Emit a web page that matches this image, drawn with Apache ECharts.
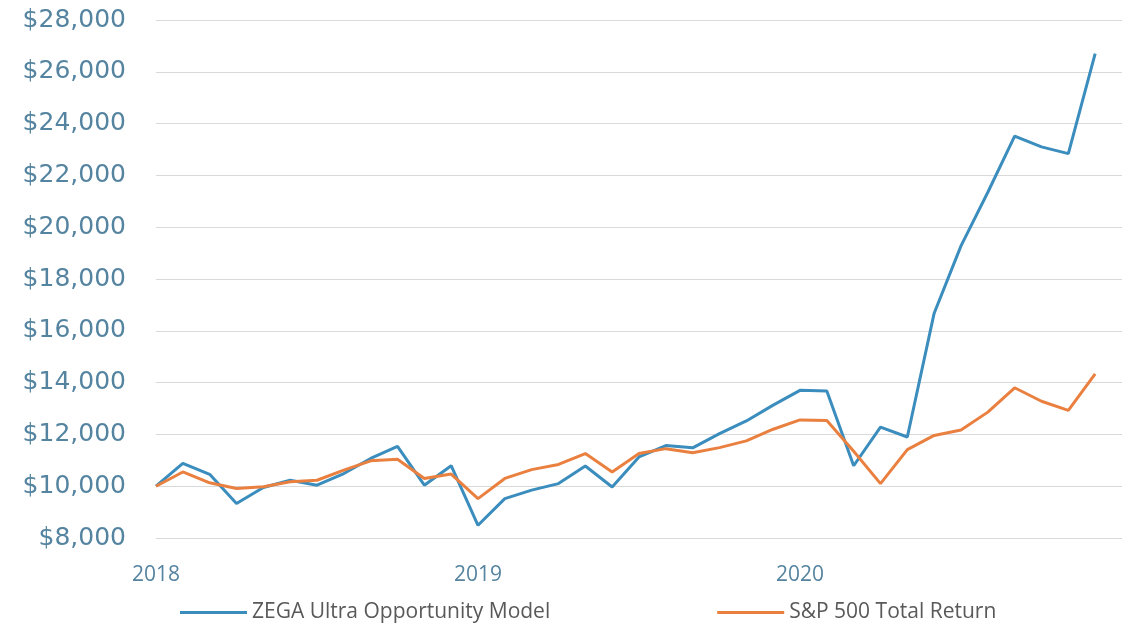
<!DOCTYPE html>
<html>
<head>
<meta charset="utf-8">
<script src="https://cdn.jsdelivr.net/npm/echarts@6/dist/echarts.min.js"></script>
<style>
  html, body { margin: 0; padding: 0; background: #fff; }
  #chart { width: 1124px; height: 626px; }
</style>
</head>
<body>
<div id="chart"></div>
<script>
// monthly points, Jan 2018 .. Dec 2020 (axis runs one extra month to Jan 2021)
const months = [
  '2018-01', '2018-02', '2018-03', '2018-04', '2018-05', '2018-06',
  '2018-07', '2018-08', '2018-09', '2018-10', '2018-11', '2018-12',
  '2019-01', '2019-02', '2019-03', '2019-04', '2019-05', '2019-06',
  '2019-07', '2019-08', '2019-09', '2019-10', '2019-11', '2019-12',
  '2020-01', '2020-02', '2020-03', '2020-04', '2020-05', '2020-06',
  '2020-07', '2020-08', '2020-09', '2020-10', '2020-11', '2020-12',
  '2021-01'
]
const yearLabels = ['2018', '2019', '2020']

const zega = [
  10000, 10880, 10460, 9330, 9950, 10230, 10040, 10490, 11070, 11540, 10040, 10790,
  8490, 9520, 9850, 10100, 10780, 9970, 11130, 11570, 11480, 12030, 12520, 13130,
  13700, 13680, 10790, 12280, 11900, 16680, 19280, 21350, 23520, 23100, 22840, 26700
]
const sp500 = [
  10000, 10550, 10130, 9910, 9975, 10170, 10230, 10620, 10980, 11040, 10300, 10470,
  9520, 10300, 10640, 10840, 11260, 10550, 11260, 11450, 11290, 11490, 11750, 12200,
  12560, 12540, 11350, 10100, 11410, 11960, 12170, 12860, 13800, 13280, 12930, 14340
]

const chart = echarts.init(document.getElementById('chart'))

const option = {
  animation: false,
  grid: { left: 156, right: 2, top: 20, bottom: 88 },
  legend: {
    left: 175,
    top: 597,
    itemWidth: 67,
    itemHeight: 3,
    itemGap: 167,
    icon: 'rect',
    textStyle: { fontFamily: 'Open Sans', fontSize: 21, color: '#595959' },
    data: ['ZEGA Ultra Opportunity Model', 'S&P 500 Total Return']
  },
  xAxis: {
    type: 'category',
    boundaryGap: false,
    data: months,
    axisLine: { show: false },
    axisTick: { show: false },
    splitLine: { show: false },
    axisLabel: {
      margin: 27,
      fontFamily: 'Open Sans',
      fontSize: 21,
      color: '#5584a0',
      interval: (i, v) => yearLabels.includes(v.slice(0, 4)) && v.endsWith('-01'),
      formatter: v => v.slice(0, 4)
    }
  },
  yAxis: {
    type: 'value',
    min: 8000,
    max: 28000,
    interval: 2000,
    axisLine: { show: false },
    axisTick: { show: false },
    splitLine: { lineStyle: { color: '#d9d9d9', width: 1 } },
    axisLabel: {
      margin: 30,
      fontFamily: 'DejaVu Sans',
      fontSize: 25,
      color: '#5584a0',
      formatter: v => '$' + v.toLocaleString('en-US')
    }
  },
  series: [
    {
      name: 'ZEGA Ultra Opportunity Model',
      type: 'line',
      data: zega,
      symbol: 'none',
      color: '#3a8dbd',
      lineStyle: { width: 3, color: '#3a8dbd' },
      emphasis: { disabled: true },
      z: 3
    },
    {
      name: 'S&P 500 Total Return',
      type: 'line',
      data: sp500,
      symbol: 'none',
      color: '#ea8040',
      lineStyle: { width: 3, color: '#ea8040' },
      emphasis: { disabled: true },
      z: 4
    }
  ]
}

chart.setOption(option)
</script>
</body>
</html>
